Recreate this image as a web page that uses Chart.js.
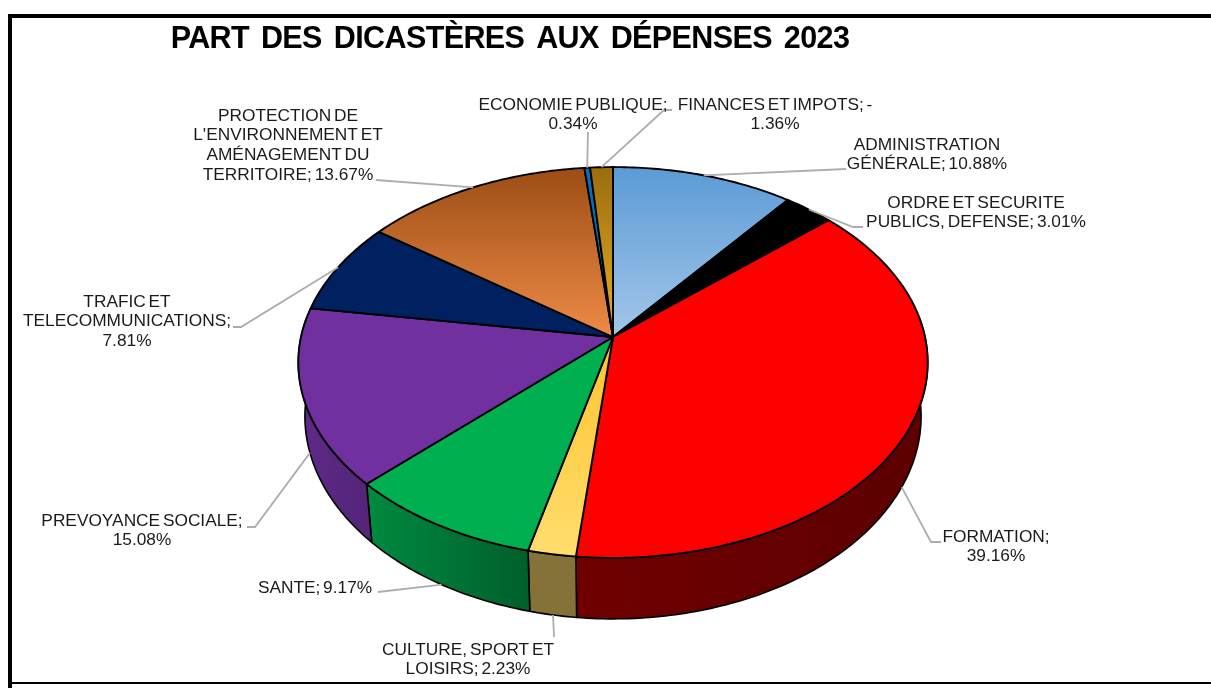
<!DOCTYPE html>
<html lang="fr">
<head>
<meta charset="utf-8">
<title>Part des dicastères aux dépenses 2023</title>
<script src="https://cdn.jsdelivr.net/npm/chart.js@4"></script>
<style>
  html, body { margin: 0; padding: 0; background: #fff; overflow: hidden; }
  #wrap { position: relative; width: 1211px; height: 688px; }
  #wrap canvas { position: absolute; left: 0; top: 0; }
  .rule { position: absolute; background: #000; }
</style>
</head>
<body>
<div id="wrap">
  <canvas id="chart" width="1211" height="688"></canvas>
  <div class="rule" style="left:8px;top:14px;width:1203px;height:4px"></div>
  <div class="rule" style="left:8px;top:14px;width:4px;height:674px"></div>
  <div class="rule" style="left:8px;top:682px;width:1203px;height:2px"></div>
</div>
<script>
const titleText = 'PART DES DICASTÈRES AUX DÉPENSES 2023';

const categories = [
  'ADMINISTRATION GÉNÉRALE',
  'ORDRE ET SECURITE PUBLICS, DEFENSE',
  'FORMATION',
  'CULTURE, SPORT ET LOISIRS',
  'SANTE',
  'PREVOYANCE SOCIALE',
  'TRAFIC ET TELECOMMUNICATIONS',
  'PROTECTION DE L\'ENVIRONNEMENT ET AMÉNAGEMENT DU TERRITOIRE',
  'ECONOMIE PUBLIQUE',
  'FINANCES ET IMPOTS'
];

// finances is negative in the source, the pie takes its absolute value
const shares = [10.88, 3.01, 39.16, 2.23, 9.17, 15.08, 7.81, 13.67, 0.34, -1.36];

const labelLines = [
  ['ADMINISTRATION', 'GÉNÉRALE; 10.88%'],
  ['ORDRE ET SECURITE', 'PUBLICS, DEFENSE; 3.01%'],
  ['FORMATION;', '39.16%'],
  ['CULTURE, SPORT ET', 'LOISIRS; 2.23%'],
  ['SANTE; 9.17%'],
  ['PREVOYANCE SOCIALE;', '15.08%'],
  ['TRAFIC ET', 'TELECOMMUNICATIONS;', '7.81%'],
  ['PROTECTION DE', 'L\'ENVIRONNEMENT ET', 'AMÉNAGEMENT DU', 'TERRITOIRE; 13.67%'],
  ['ECONOMIE PUBLIQUE;', '0.34%'],
  ['FINANCES ET IMPOTS; -', '1.36%']
];

// label centre x and first line centre y
const labelAnchors = [
  [927, 145], [976, 203], [996, 537], [468, 650], [315, 588],
  [142, 521], [127, 302], [288, 116], [573, 105], [775, 105]
];

// where each leader line leaves the label, before it runs to the slice
const leaderStarts = [
  [[846, 169]],
  [[863, 227], [853, 227]],
  [[941, 542], [931, 542]],
  [[554, 637]],
  [[378, 592]],
  [[247, 527], [255, 527]],
  [[233, 327], [241, 327]],
  [[376, 180]],
  [[588, 132]],
  [[672, 110], [664, 110]]
];

const topFrom = ['#5b9bd5', '#000000', '#ff0000', '#ffc32e', '#00b050', '#7030a0', '#002060', '#9c4d15', '#0070c0', '#9a6c0e'];
const topTo = ['#a3c6ea', '#000000', '#ff0000', '#ffdd6e', '#00b050', '#7030a0', '#002060', '#ee8b47', '#0070c0', '#e8b222'];
const wallFrom = ['#3c648a', '#000000', '#700000', '#857238', '#008a40', '#5e2a88', '#001030', '#7a4020', '#004070', '#7a5a10'];
const wallTo = ['#3c648a', '#000000', '#5c0000', '#857238', '#005f2c', '#532478', '#001030', '#7a4020', '#004070', '#7a5a10'];

// perspective of the tilted disc
const VIEW = { lean: -0.1304, tilt: 0.6157, depth: 53, lowerScale: 0.979 };

function project(arc, angle, lower) {
  const u = Math.cos(angle), v = Math.sin(angle);
  const d = 1 + VIEW.lean * v;
  const r = arc.outerRadius;
  return {
    x: arc.x + (lower ? VIEW.lowerScale : 1) * r * u / d,
    y: arc.y + (VIEW.tilt * r * v + (lower ? VIEW.depth : 0)) / d
  };
}

function rimPoints(arc, from, to, lower) {
  const steps = Math.max(2, Math.ceil((to - from) / 0.015));
  const pts = [];
  for (let i = 0; i <= steps; i++) {
    pts.push(project(arc, from + (to - from) * i / steps, lower));
  }
  return pts;
}

function tracePath(ctx, pts) {
  ctx.beginPath();
  pts.forEach((p, i) => (i ? ctx.lineTo(p.x, p.y) : ctx.moveTo(p.x, p.y)));
  ctx.closePath();
}

const pie3d = {
  id: 'pie3d',
  // replaces the flat arcs, angles still come from the pie controller
  beforeDatasetDraw(chart, args) {
    const ctx = chart.ctx;
    const arcs = args.meta.data;
    ctx.save();
    ctx.lineJoin = 'round';
    ctx.strokeStyle = '#000';

    arcs.forEach((arc, i) => {
      const from = Math.max(arc.startAngle, -0.1);
      const to = Math.min(arc.endAngle, Math.PI + 0.1);
      if (from >= to) return;
      const upper = rimPoints(arc, from, to, false);
      const lower = rimPoints(arc, from, to, true);
      const xs = upper.concat(lower).map(p => p.x);
      const grad = ctx.createLinearGradient(Math.min(...xs), 0, Math.max(...xs), 0);
      grad.addColorStop(0, wallFrom[i]);
      grad.addColorStop(1, wallTo[i]);
      tracePath(ctx, upper.concat(lower.reverse()));
      ctx.fillStyle = grad;
      ctx.fill();
      ctx.lineWidth = 1.6;
      ctx.stroke();
    });

    arcs.forEach((arc, i) => {
      const rim = rimPoints(arc, arc.startAngle, arc.endAngle, false);
      const ys = rim.map(p => p.y).concat(arc.y);
      const grad = ctx.createLinearGradient(0, Math.min(...ys), 0, Math.max(...ys));
      grad.addColorStop(0, topFrom[i]);
      grad.addColorStop(1, topTo[i]);
      tracePath(ctx, [{ x: arc.x, y: arc.y }].concat(rim));
      ctx.fillStyle = grad;
      ctx.fill();
      ctx.lineWidth = 1.9;
      ctx.stroke();
    });
    ctx.restore();
    return false;
  },
  afterDatasetsDraw(chart) {
    const ctx = chart.ctx;
    const arcs = chart.getDatasetMeta(0).data;
    ctx.save();

    ctx.strokeStyle = '#adadad';
    ctx.lineWidth = 1.8;
    arcs.forEach((arc, i) => {
      const mid = (arc.startAngle + arc.endAngle) / 2;
      const end = project(arc, mid, Math.sin(mid) > 0);
      ctx.beginPath();
      leaderStarts[i].forEach((p, j) => (j ? ctx.lineTo(p[0], p[1]) : ctx.moveTo(p[0], p[1])));
      ctx.lineTo(end.x, end.y);
      ctx.stroke();
    });

    ctx.fillStyle = '#1a1a1a';
    ctx.textAlign = 'center';
    ctx.textBaseline = 'middle';
    ctx.font = '17.3px "Liberation Sans", Arial, sans-serif';
    ctx.wordSpacing = '-2px';
    labelLines.forEach((lines, i) => {
      lines.forEach((line, j) => {
        ctx.fillText(line, labelAnchors[i][0], labelAnchors[i][1] + j * 19.6);
      });
    });

    ctx.fillStyle = '#000';
    ctx.font = 'bold 30.5px "Liberation Sans", Arial, sans-serif';
    ctx.letterSpacing = '-0.6px';
    ctx.wordSpacing = '4px';
    ctx.fillText(titleText, 510, 40);
    ctx.restore();
  }
};

new Chart(document.getElementById('chart'), {
  type: 'pie',
  data: {
    labels: categories,
    datasets: [{ data: shares, backgroundColor: topTo, borderWidth: 0 }]
  },
  options: {
    responsive: false,
    animation: false,
    layout: { padding: { left: 301, right: 286, top: 25, bottom: 39 } },
    plugins: { legend: { display: false }, title: { display: false }, tooltip: { enabled: false } }
  },
  plugins: [pie3d]
});
</script>
</body>
</html>
